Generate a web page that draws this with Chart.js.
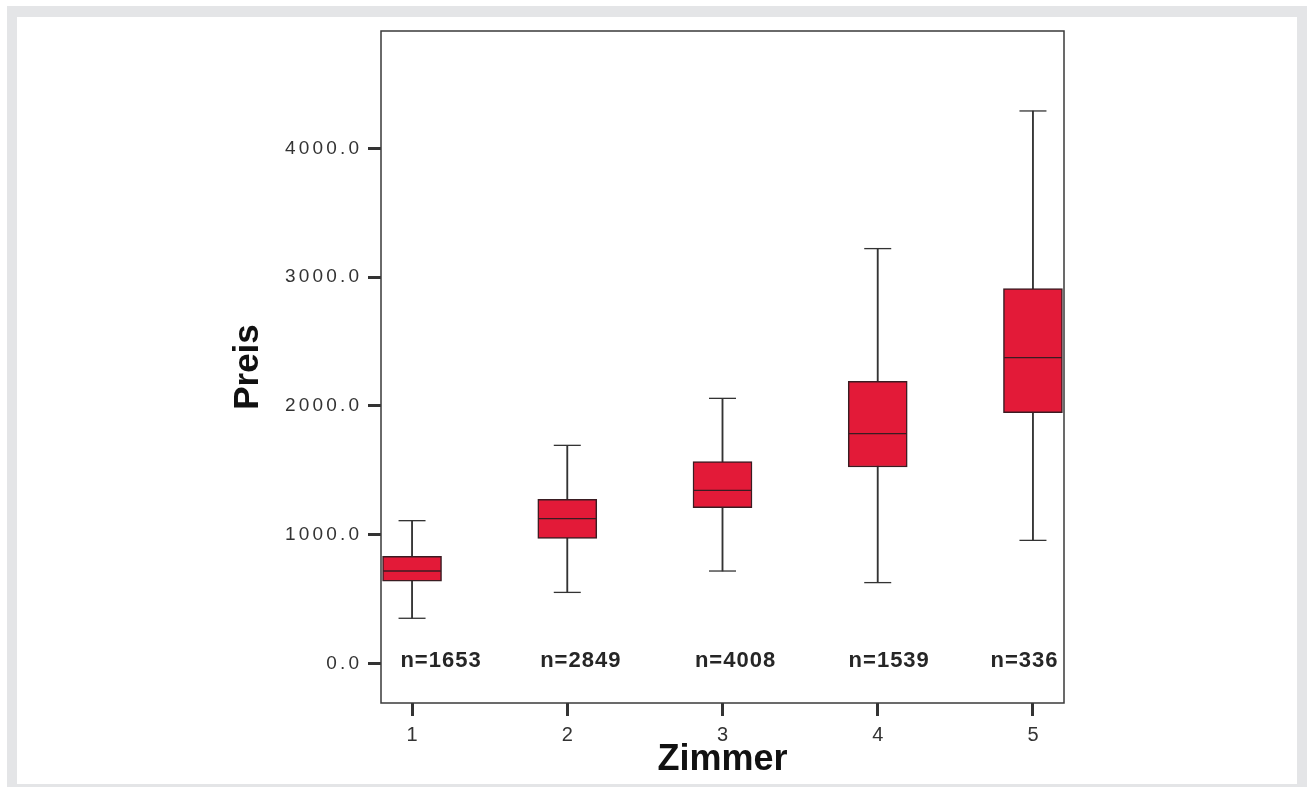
<!DOCTYPE html>
<html>
<head>
<meta charset="utf-8">
<script src="https://cdn.jsdelivr.net/npm/chart.js@4.4.1/dist/chart.umd.min.js"></script>
<style>
  html, body { margin: 0; padding: 0; background: #ffffff; width: 1309px; height: 787px; overflow: hidden; }
  #frame { position: absolute; left: 7px; top: 6px; width: 1280px; height: 767px;
           border-style: solid; border-color: #e4e5e7; border-width: 11px 10px 10px 10px; }
  #c { position: absolute; left: 0; top: 0; }
</style>
</head>
<body>
<div id="frame"></div>
<canvas id="c" width="1309" height="787"></canvas>
<script>
// ---- data ----
const categories  = [1, 2, 3, 4, 5];
const whiskerLow  = [350, 551, 717, 627, 955];
const quartile1   = [639, 971, 1209, 1525, 1947];
const medians     = [717, 1124, 1344, 1784, 2374];
const quartile3   = [831, 1274, 1567, 2190, 2910];
const whiskerHigh = [1108, 1693, 2058, 3221, 4290];
const counts      = [1653, 2849, 4008, 1539, 336];
const yTickValues = [0, 1000, 2000, 3000, 4000];

const BOX_FILL = '#e31a38';
const BOX_EDGE = '#3a1c22';
const LINE_COL = '#333333';

const boxData     = categories.map((c, i) => ({ x: c, y: [quartile1[i], quartile3[i]] }));
const whiskerData = categories.map((c, i) => ({ x: c, y: [whiskerLow[i], whiskerHigh[i]] }));
const capData     = categories.flatMap((c, i) => [{ x: c, y: whiskerLow[i] }, { x: c, y: whiskerHigh[i] }]);
const medianData  = categories.map((c, i) => ({ x: c, y: medians[i] }));

const spaced = s => s.split('').join('\u2006');

const framePlugin = {
  id: 'frame',
  beforeDatasetsDraw(chart) {
    const { ctx, chartArea: a } = chart;
    ctx.save();
    ctx.strokeStyle = '#3a3a3a';
    ctx.lineWidth = 1.5;
    ctx.strokeRect(a.left, a.top, a.right - a.left, a.bottom - a.top);
    ctx.restore();
  }
};

const countPlugin = {
  id: 'counts',
  afterDatasetsDraw(chart, args, opts) {
    const { ctx } = chart;
    const xs = chart.scales.x, ys = chart.scales.y;
    ctx.save();
    ctx.font = 'bold 22px "Liberation Sans", Arial, sans-serif';
    try { ctx.letterSpacing = '1px'; } catch (e) {}
    ctx.fillStyle = '#262626';
    ctx.textAlign = 'center';
    ctx.textBaseline = 'alphabetic';
    categories.forEach((c, i) => {
      const x = xs.getPixelForValue(c) + opts.offsets[i];
      const y = ys.getPixelForValue(0) + 4;
      ctx.fillText('n=' + counts[i], x, y);
    });
    ctx.restore();
  }
};

new Chart(document.getElementById('c'), {
  type: 'bar',
  data: {
    datasets: [
      { type: 'scatter', data: medianData, order: 1, pointStyle: 'line', pointRadius: 29,
        pointBorderColor: BOX_EDGE, pointBorderWidth: 1.3, pointBackgroundColor: BOX_EDGE, showLine: false },
      { type: 'scatter', data: capData, order: 2, pointStyle: 'line', pointRadius: 13.5,
        pointBorderColor: LINE_COL, pointBorderWidth: 1.3, pointBackgroundColor: LINE_COL, showLine: false },
      { type: 'bar', data: boxData, order: 3, grouped: false, barThickness: 59,
        backgroundColor: BOX_FILL, borderColor: BOX_EDGE, borderWidth: 1.5, borderSkipped: false },
      { type: 'bar', data: whiskerData, order: 4, grouped: false, barThickness: 1.2,
        backgroundColor: LINE_COL, borderWidth: 0 }
    ]
  },
  options: {
    responsive: false,
    animation: false,
    devicePixelRatio: 1,
    layout: { padding: { left: 0, top: 31, right: 245, bottom: 0 } },
    plugins: {
      legend: { display: false },
      tooltip: { enabled: false },
      counts: { offsets: [29, 13.5, 13, 11.5, -8.5] }
    },
    scales: {
      x: {
        type: 'linear',
        min: 0.8, max: 5.2,
        offset: false,
        afterBuildTicks: s => { s.ticks = categories.map(v => ({ value: v })); },
        afterFit: s => { s.height = 84; },
        grid: { display: true, offset: false, drawOnChartArea: false, drawTicks: true, tickLength: 13, tickWidth: 3, tickColor: '#333' },
        border: { display: false },
        ticks: { color: '#333', padding: 7, font: { family: '"Liberation Sans", Arial, sans-serif', size: 20 },
                 callback: v => String(v) },
        title: { display: true, text: 'Zimmer', color: '#111',
                 font: { family: '"Liberation Sans", Arial, sans-serif', size: 36, weight: 'bold' },
                 padding: { top: 0, bottom: 5 } }
      },
      y: {
        type: 'linear',
        min: -308, max: 4911,
        afterBuildTicks: s => { s.ticks = yTickValues.map(v => ({ value: v })); },
        afterFit: s => { s.width = 381; },
        grid: { display: true, drawOnChartArea: false, drawTicks: true, tickLength: 13, tickWidth: 3, tickColor: '#333' },
        border: { display: false },
        ticks: { color: '#333', padding: 9, font: { family: '"Liberation Sans", Arial, sans-serif', size: 19 },
                 callback: v => spaced(Number(v).toFixed(1)) },
        title: { display: true, text: 'Preis', color: '#111',
                 font: { family: '"Liberation Sans", Arial, sans-serif', size: 35, weight: 'bold' },
                 padding: { top: 227, bottom: 0 } }
      }
    }
  },
  plugins: [framePlugin, countPlugin]
});
</script>
</body>
</html>
